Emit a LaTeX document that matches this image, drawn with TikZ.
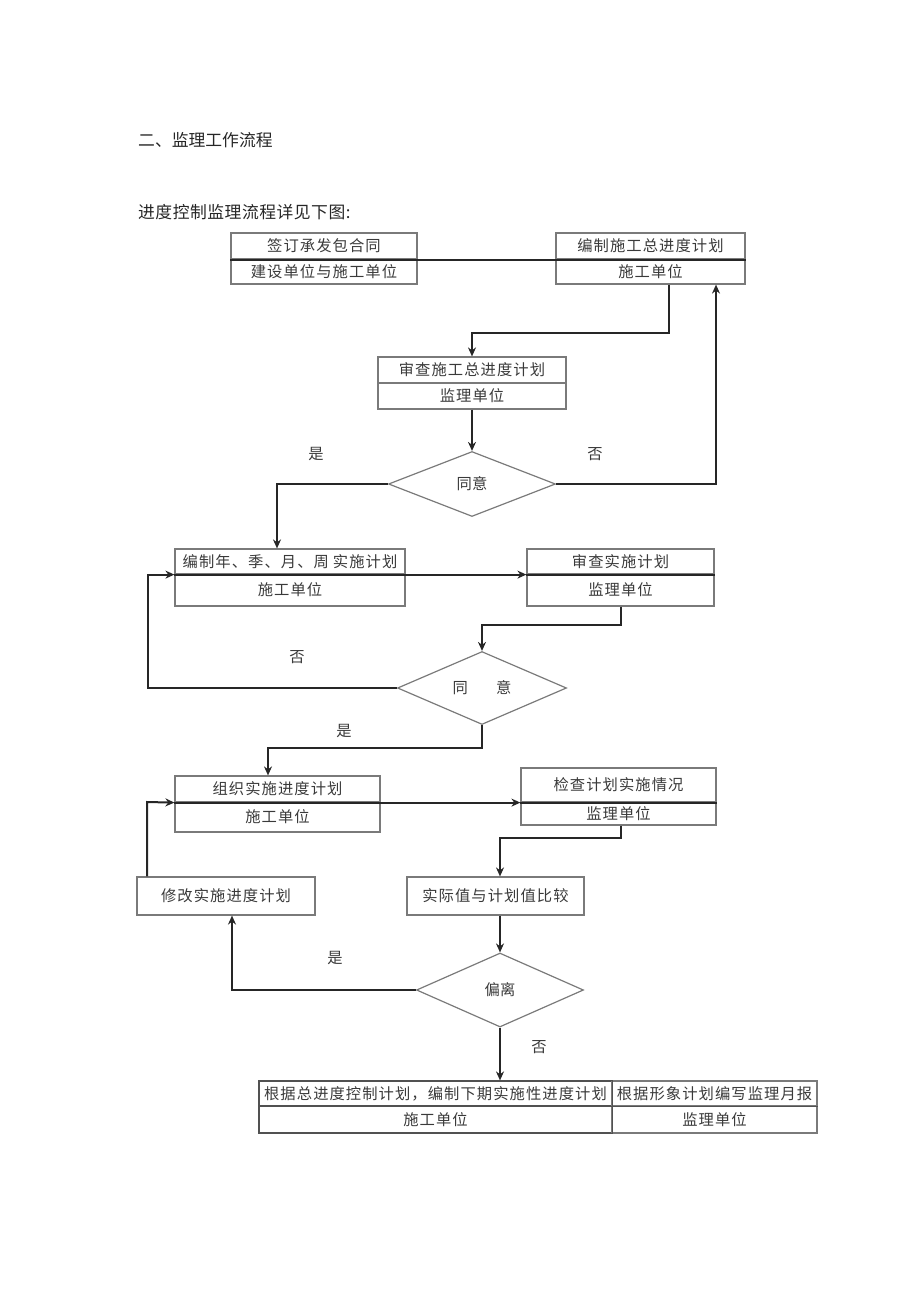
\documentclass[tikz,border=0pt]{standalone}
\usepackage{fontspec}
\setmainfont{Noto Sans CJK SC}
\usetikzlibrary{shapes.geometric,arrows.meta}
\definecolor{boxgray}{HTML}{7A7A7A}
\definecolor{txtgray}{HTML}{3A3A3A}
\definecolor{linec}{HTML}{262626}
\tikzset{
  bx/.style={draw=boxgray, line width=1.2pt, inner sep=0pt, text=txtgray,
    font=\fontsize{15.3}{16}\selectfont\addfontfeatures{LetterSpace=7}},
  diam/.style={shape=diamond, draw=boxgray, line width=1.2pt, inner sep=0pt, text=txtgray,
    font=\fontsize{15.3}{16}\selectfont},
  conn/.style={draw=linec, line width=2pt, -{Stealth[length=9pt,width=8pt]}},
  plainline/.style={draw=linec, line width=2pt},
  lbl/.style={text=txtgray, font=\fontsize{15.3}{16}\selectfont},
  ttl/.style={anchor=west, text=black!85, inner sep=0pt, font=\fontsize{16.8}{17}\selectfont}
}
\begin{document}
\begin{tikzpicture}[x=1pt,y=-1pt]
\useasboundingbox (0,0) rectangle (920,1301);
% titles
\node[ttl] (t1) at (138,140) {二、监理工作流程};
\node[ttl] (t2) at (138,212) {\addfontfeatures{LetterSpace=3}进度控制监理流程详见下图:};
% box 1 and 2
\node[bx, minimum width=186pt, minimum height=26pt] (b1t) at (324,246) {签订承发包合同};
\node[bx, minimum width=186pt, minimum height=25pt] (b1b) at (324,271.5) {建设单位与施工单位};
\node[bx, minimum width=189pt, minimum height=26pt] (b2t) at (650.5,246) {编制施工总进度计划};
\node[bx, minimum width=189pt, minimum height=25pt] (b2b) at (650.5,271.5) {施工单位};
% box 3
\node[bx, minimum width=188pt, minimum height=26pt] (b3t) at (472,370) {审查施工总进度计划};
\node[bx, minimum width=188pt, minimum height=26pt] (b3b) at (472,396) {监理单位};
% diamond 1
\node[diam, minimum width=167pt, minimum height=65pt] (d1) at (472,484) {同意};
% box 4 and 5
\node[bx, minimum width=230pt, minimum height=25pt] (b4t) at (290,561.5) {编制年、季、月、周\hspace{4pt}实施计划};
\node[bx, minimum width=230pt, minimum height=32pt] (b4b) at (290,590) {施工单位};
\node[bx, minimum width=187pt, minimum height=25pt] (b5t) at (620.5,561.5) {审查实施计划};
\node[bx, minimum width=187pt, minimum height=32pt] (b5b) at (620.5,590) {监理单位};
% diamond 2
\node[diam, minimum width=169pt, minimum height=73pt] (d2) at (482,688) {同\hspace{28pt}意};
% box 6 and 7
\node[bx, minimum width=205pt, minimum height=26pt] (b6t) at (277.5,789) {组织实施进度计划};
\node[bx, minimum width=205pt, minimum height=30pt] (b6b) at (277.5,817) {施工单位};
\node[bx, minimum width=195pt, minimum height=34pt] (b7t) at (618.5,785) {检查计划实施情况};
\node[bx, minimum width=195pt, minimum height=23pt] (b7b) at (618.5,813.5) {监理单位};
% box 8 and 9
\node[bx, minimum width=177pt, minimum height=38pt] (b8) at (495.5,896) {实际值与计划值比较};
\node[bx, minimum width=178pt, minimum height=38pt] (b9) at (226,896) {修改实施进度计划};
% diamond 3
\node[diam, minimum width=167pt, minimum height=74pt] (d3) at (500,990) {偏离};
% box 10
\node[bx, draw=linec!80, minimum width=353pt, minimum height=25pt] (b10a) at (435.5,1093.5) {根据总进度控制计划，编制下期实施性进度计划};
\node[bx, minimum width=205pt, minimum height=25pt] (b10b) at (714.5,1093.5) {根据形象计划编写监理月报};
\node[bx, draw=linec!80, minimum width=353pt, minimum height=27pt] (b10c) at (435.5,1119.5) {施工单位};
\node[bx, minimum width=205pt, minimum height=27pt] (b10d) at (714.5,1119.5) {监理单位};
\draw[draw=linec!80, line width=1.4pt] (b10a.north west) rectangle (b10c.south east);
\draw[draw=linec!80, line width=1.4pt] (b10a.south west) -- (b10b.south east);
% labels
\node[lbl] (l1) at (316,454) {是};
\node[lbl] (l2) at (595,454) {否};
\node[lbl] (l3) at (297,657) {否};
\node[lbl] (l4) at (344,731) {是};
\node[lbl] (l5) at (335,958) {是};
\node[lbl] (l6) at (539,1047) {否};
% bend coordinates
\coordinate (k1) at (669,333);
\coordinate (k2) at (716,484);
\coordinate (k3) at (277,484);
\coordinate (k4) at (482,625);
\coordinate (k5) at (148,688);
\coordinate (k6) at (268,748);
\coordinate (k7) at (500,838);
\coordinate (k8) at (232,990);
\coordinate (k9) at (147,802);
% connectors
\draw[plainline] (b1t.south west) -- (b2t.south east);
\draw[conn] (b2b.south -| k1) -- (k1) -| (b3t.north);
\draw[conn] (b3b.south) -- (d1.north);
\draw[conn] (d1.east) -- (k2) -- (k2 |- b2b.south);
\draw[conn] (d1.west) -- (k3) -- (k3 |- b4t.north);
\draw[plainline] (b4t.south west) -- (b4t.south east);
\draw[plainline] (b5t.south west) -- (b5t.south east);
\draw[conn] (b4t.south east) -- (b5t.south west);
\draw[conn] (b5b.south) |- (k4) -- (d2.north);
\draw[conn] (d2.west) -- (k5) |- (b4t.south west);
\draw[conn] (d2.south) |- (k6) -- (k6 |- b6t.north);
\draw[plainline] (b6t.south west) -- (b6t.south east);
\draw[plainline] (b7t.south west) -- (b7t.south east);
\draw[conn] (b6t.south east) -- (b7t.south west);
\draw[conn] ([xshift=2.5pt]b7b.south) |- (k7) -- (k7 |- b8.north);
\draw[conn] (d3.north |- b8.south) -- (d3.north);
\draw[conn] (d3.west) -- (k8) -- (k8 |- b9.south);
\draw[conn] (k9 |- b9.north) -- (k9) -- (b6t.south west);
\draw[conn] (d3.south) -- (d3.south |- b10a.north);
\end{tikzpicture}
\end{document}
